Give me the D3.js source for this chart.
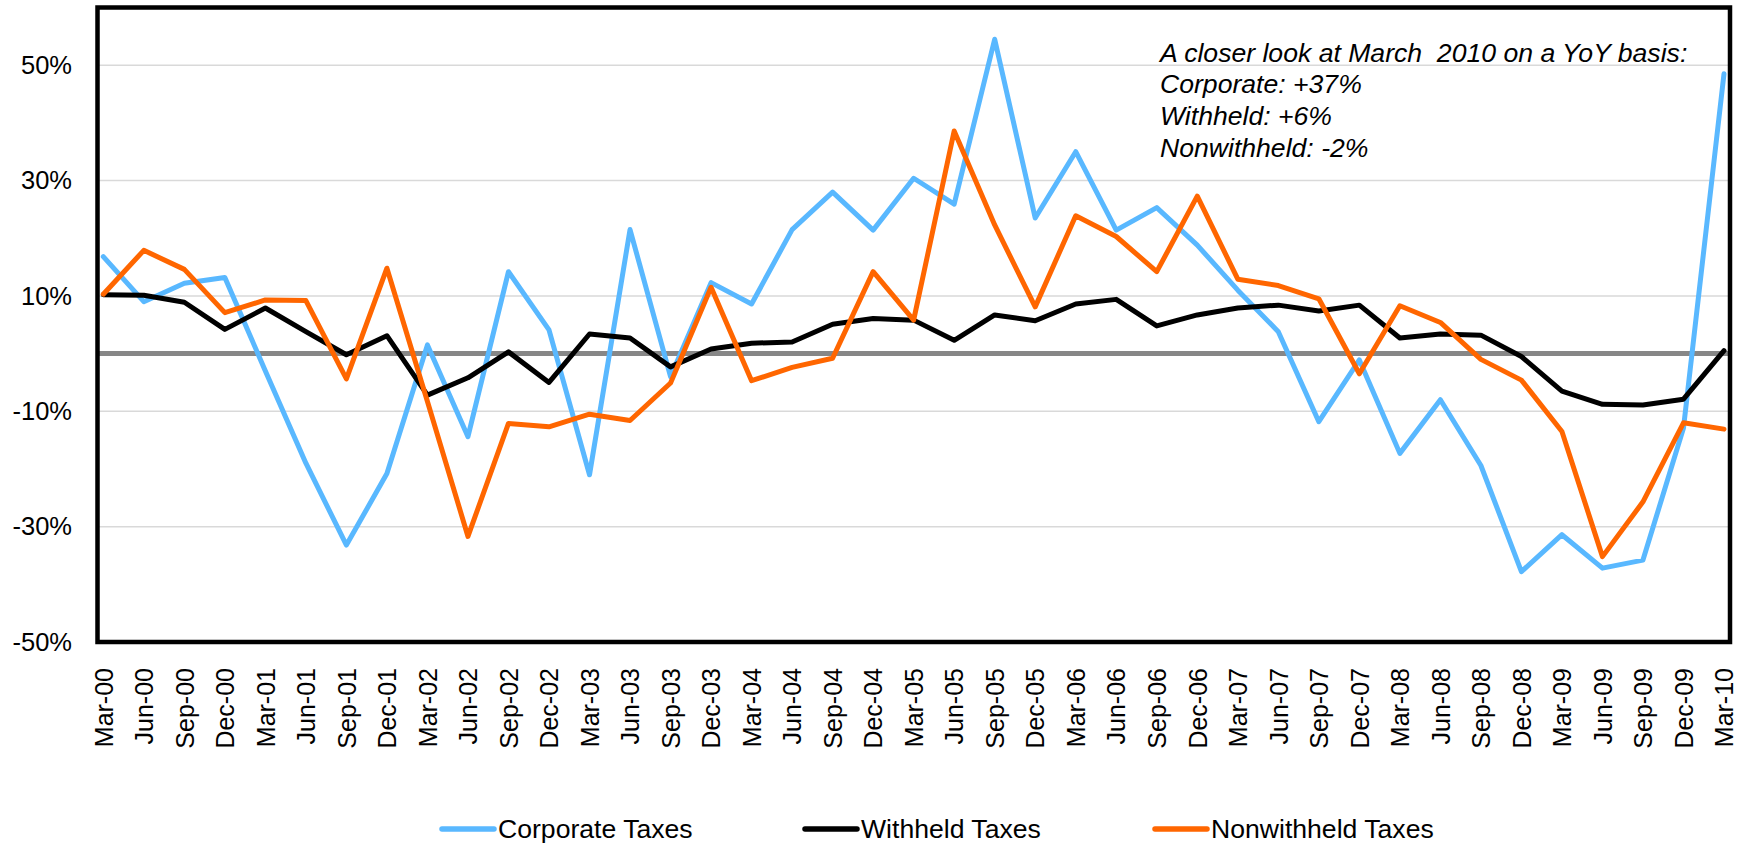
<!DOCTYPE html>
<html>
<head>
<meta charset="utf-8">
<script src="https://cdn.jsdelivr.net/npm/d3@7"></script>
<style>
  html, body { margin: 0; padding: 0; background: #ffffff; }
  svg { display: block; font-family: Arial, "Liberation Sans", Helvetica, sans-serif; }
</style>
</head>
<body>
<svg id="chart" width="1738" height="850"></svg>
<script>
const categories = [
  "Mar-00","Jun-00","Sep-00","Dec-00","Mar-01","Jun-01","Sep-01","Dec-01",
  "Mar-02","Jun-02","Sep-02","Dec-02","Mar-03","Jun-03","Sep-03","Dec-03",
  "Mar-04","Jun-04","Sep-04","Dec-04","Mar-05","Jun-05","Sep-05","Dec-05",
  "Mar-06","Jun-06","Sep-06","Dec-06","Mar-07","Jun-07","Sep-07","Dec-07",
  "Mar-08","Jun-08","Sep-08","Dec-08","Mar-09","Jun-09","Sep-09","Dec-09","Mar-10"
];
const corporateTaxes = [
  16.8, 9.0, 12.2, 13.2, -3.0, -19.0, -33.2, -20.8,
  1.5, -14.4, 14.2, 4.1, -21.0, 21.5, -4.0, 12.3,
  8.6, 21.5, 28.0, 21.4, 30.4, 25.9, 54.5, 23.5,
  35.0, 21.4, 25.3, 18.8, 11.0, 3.8, -11.8, -1.1,
  -17.3, -8.0, -19.4, -37.8, -31.4, -37.2, -35.8, -12.9, 48.5
];
const withheldTaxes = [
  10.2, 10.1, 8.9, 4.2, 7.9, 3.8, -0.2, 3.1,
  -7.2, -4.2, 0.3, -5.0, 3.4, 2.7, -2.3, 0.8,
  1.8, 2.0, 5.1, 6.1, 5.8, 2.3, 6.7, 5.7,
  8.6, 9.4, 4.8, 6.7, 7.9, 8.4, 7.4, 8.4,
  2.7, 3.4, 3.2, -0.5, -6.5, -8.8, -8.9, -7.9, 0.5
];
const nonwithheldTaxes = [
  10.3, 17.9, 14.6, 7.1, 9.3, 9.2, -4.4, 14.8,
  -8.3, -31.7, -12.1, -12.7, -10.5, -11.6, -5.1, 11.5,
  -4.7, -2.4, -0.8, 14.2, 5.8, 38.6, 22.3, 8.1,
  23.9, 20.3, 14.2, 27.3, 12.9, 11.8, 9.5, -3.5,
  8.3, 5.4, -1.0, -4.6, -13.5, -35.2, -25.7, -12.0, -13.1
];
const yTickValues = [50, 30, 10, -10, -30, -50];
const yDomain = [-50, 60];
const seriesNames = ["Corporate Taxes", "Withheld Taxes", "Nonwithheld Taxes"];
const seriesColors = ["#59b8ff", "#000000", "#ff6600"];
const noteLines = [
  "A closer look at March  2010 on a YoY basis:",
  "Corporate: +37%",
  "Withheld: +6%",
  "Nonwithheld: -2%"
];

const series = [corporateTaxes, withheldTaxes, nonwithheldTaxes].map((vals, i) => ({
  name: seriesNames[i], color: seriesColors[i],
  values: vals.map((v, j) => ({ cat: categories[j], v }))
}));

const svg = d3.select("#chart");
const frame = { left: 97.5, right: 1730, top: 7.5, bottom: 642 };

const x = d3.scalePoint().domain(categories).range([103.3, 1724]);
const y = d3.scaleLinear().domain(yDomain).range([frame.bottom, frame.top]);

// gridlines
svg.append("g").selectAll("line").data(yTickValues.filter(v => v !== -50)).join("line")
  .attr("x1", frame.left).attr("x2", frame.right)
  .attr("y1", d => y(d)).attr("y2", d => y(d))
  .attr("stroke", "#d9d9d9").attr("stroke-width", 1.5);

// zero line
svg.append("line")
  .attr("x1", frame.left).attr("x2", frame.right)
  .attr("y1", y(0)).attr("y2", y(0))
  .attr("stroke", "#878787").attr("stroke-width", 5);

// y axis labels
const yAxis = d3.axisLeft(y).tickValues(yTickValues).tickSize(0).tickPadding(0)
  .tickFormat(d => d + "%");
const gy = svg.append("g").attr("transform", "translate(72,0)").call(yAxis);
gy.select(".domain").remove();
gy.selectAll("text").attr("font-size", 25.5).attr("fill", "#000")
  .attr("font-family", "Arial, 'Liberation Sans', sans-serif");

// x axis labels
const xAxis = d3.axisBottom(x).tickSize(0).tickPadding(0);
const gx = svg.append("g").attr("transform", `translate(0,${frame.bottom + 26})`).call(xAxis);
gx.select(".domain").remove();
gx.selectAll("text")
  .attr("font-size", 25).attr("fill", "#000")
  .attr("font-family", "Arial, 'Liberation Sans', sans-serif")
  .attr("transform", "rotate(-90)")
  .attr("text-anchor", "end")
  .attr("x", 0).attr("y", 0).attr("dy", "0.35em");

// lines
const line = d3.line().x(d => x(d.cat)).y(d => y(d.v));
svg.append("g").selectAll("path").data(series).join("path")
  .attr("d", d => line(d.values))
  .attr("fill", "none")
  .attr("stroke", d => d.color)
  .attr("stroke-width", 5)
  .attr("stroke-linejoin", "round")
  .attr("stroke-linecap", "round");

// frame
svg.append("rect")
  .attr("x", frame.left).attr("y", frame.top)
  .attr("width", frame.right - frame.left).attr("height", frame.bottom - frame.top)
  .attr("fill", "none").attr("stroke", "#000").attr("stroke-width", 4.5);

// annotation
svg.append("g").selectAll("text").data(noteLines).join("text")
  .attr("x", 1160)
  .attr("y", (d, i) => 61.7 + i * 31.7)
  .attr("font-size", 26.6).attr("font-style", "italic").attr("fill", "#000")
  .style("white-space", "pre")
  .attr("xml:space", "preserve")
  .text(d => d);

// legend
const legendX = [440, 803, 1153];
const legendY = 829;
const lg = svg.append("g").selectAll("g").data(series).join("g")
  .attr("transform", (d, i) => `translate(${legendX[i]},${legendY})`);
lg.append("line").attr("x1", 2).attr("x2", 54).attr("y1", 0).attr("y2", 0)
  .attr("stroke", d => d.color).attr("stroke-width", 5.5).attr("stroke-linecap", "round");
lg.append("text").attr("x", 58).attr("y", 0).attr("dy", "0.35em")
  .attr("font-size", 26.6).attr("fill", "#000").text(d => d.name);
</script>
</body>
</html>
